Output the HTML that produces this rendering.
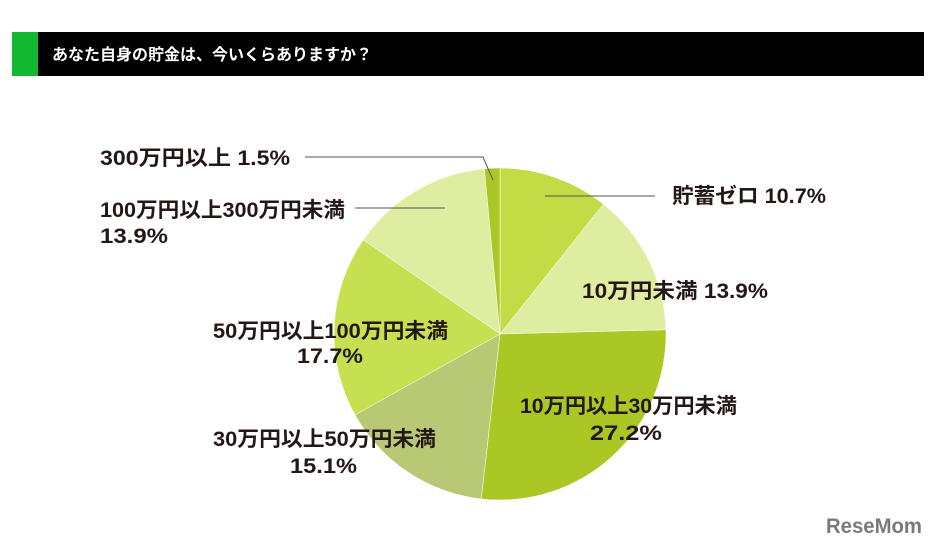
<!DOCTYPE html>
<html><head><meta charset="utf-8"><style>
body{margin:0;background:#fff;width:936px;height:549px;overflow:hidden}
svg{display:block}
.l{font-family:"Liberation Sans","Noto Sans CJK JP",sans-serif;font-weight:bold;font-size:21px;fill:#231815}
</style></head><body>
<svg id="chart" width="936" height="549">
<rect x="12" y="32" width="912" height="44" fill="#000"/>
<rect x="12" y="32" width="26" height="44" fill="#12b82e"/>
<text x="52" y="60" fill="#fff" font-family="'Liberation Sans','Noto Sans CJK JP',sans-serif" font-weight="bold" font-size="16">あなた自身の貯金は、今いくらありますか？</text>
<g id="slices"></g>
<g stroke="#555" stroke-width="1" fill="none">
<polyline points="305,157 483,157 493,180"/>
<line x1="355" y1="208" x2="445" y2="208"/>
<line x1="545" y1="196" x2="655" y2="196"/>
</g>
<g lengthAdjust="spacingAndGlyphs">
<text class="l" x="100" y="165" textLength="190" lengthAdjust="spacingAndGlyphs">300万円以上 1.5%</text>
<text class="l" x="100" y="217" textLength="245" lengthAdjust="spacingAndGlyphs">100万円以上300万円未満</text>
<text class="l" x="100" y="243" textLength="68" lengthAdjust="spacingAndGlyphs">13.9%</text>
<text class="l" x="672" y="203" textLength="154" lengthAdjust="spacingAndGlyphs">貯蓄ゼロ 10.7%</text>
<text class="l" x="582" y="298" textLength="186" lengthAdjust="spacingAndGlyphs">10万円未満 13.9%</text>
<text class="l" x="520" y="413" textLength="217" lengthAdjust="spacingAndGlyphs">10万円以上30万円未満</text>
<text class="l" x="590" y="440" textLength="72" lengthAdjust="spacingAndGlyphs">27.2%</text>
<text class="l" x="213" y="338" textLength="235" lengthAdjust="spacingAndGlyphs">50万円以上100万円未満</text>
<text class="l" x="297" y="363" textLength="66" lengthAdjust="spacingAndGlyphs">17.7%</text>
<text class="l" x="213" y="446" textLength="223" lengthAdjust="spacingAndGlyphs">30万円以上50万円未満</text>
<text class="l" x="290" y="473" textLength="67" lengthAdjust="spacingAndGlyphs">15.1%</text>
</g>
<text x="826" y="533" fill="#7a7a7a" font-family="'Liberation Sans',sans-serif" font-weight="bold" font-size="21" textLength="96" lengthAdjust="spacingAndGlyphs">ReseMom</text>
</svg>
<script>
const categories=["貯蓄ゼロ","10万円未満","10万円以上30万円未満","30万円以上50万円未満","50万円以上100万円未満","100万円以上300万円未満","300万円以上"];
const values=[10.7,13.9,27.2,15.1,17.7,13.9,1.5];
const colors=["#c3dc45","#dfeda0","#abc723","#b9c874","#c6e04f","#dfeda0","#abc723"];
const cx=500,cy=334,r=166;
const total=values.reduce((a,b)=>a+b,0);
const g=document.getElementById('slices');
let acc=0;
function pt(f){const a=f*2*Math.PI-Math.PI/2;return [cx+r*Math.cos(a),cy+r*Math.sin(a)];}
values.forEach((v,i)=>{
 const s=acc/total,e=(acc+v)/total;acc+=v;
 const p0=pt(s),p1=pt(e);
 const large=(e-s)>0.5?1:0;
 const p=document.createElementNS('http://www.w3.org/2000/svg','path');
 p.setAttribute('d',`M${cx},${cy}L${p0[0]},${p0[1]}A${r},${r} 0 ${large} 1 ${p1[0]},${p1[1]}Z`);
 p.setAttribute('fill',colors[i]);
 p.setAttribute('stroke','#fff');
 p.setAttribute('stroke-width','0.5');
 
 
 g.appendChild(p);
});
</script>
</body></html>
